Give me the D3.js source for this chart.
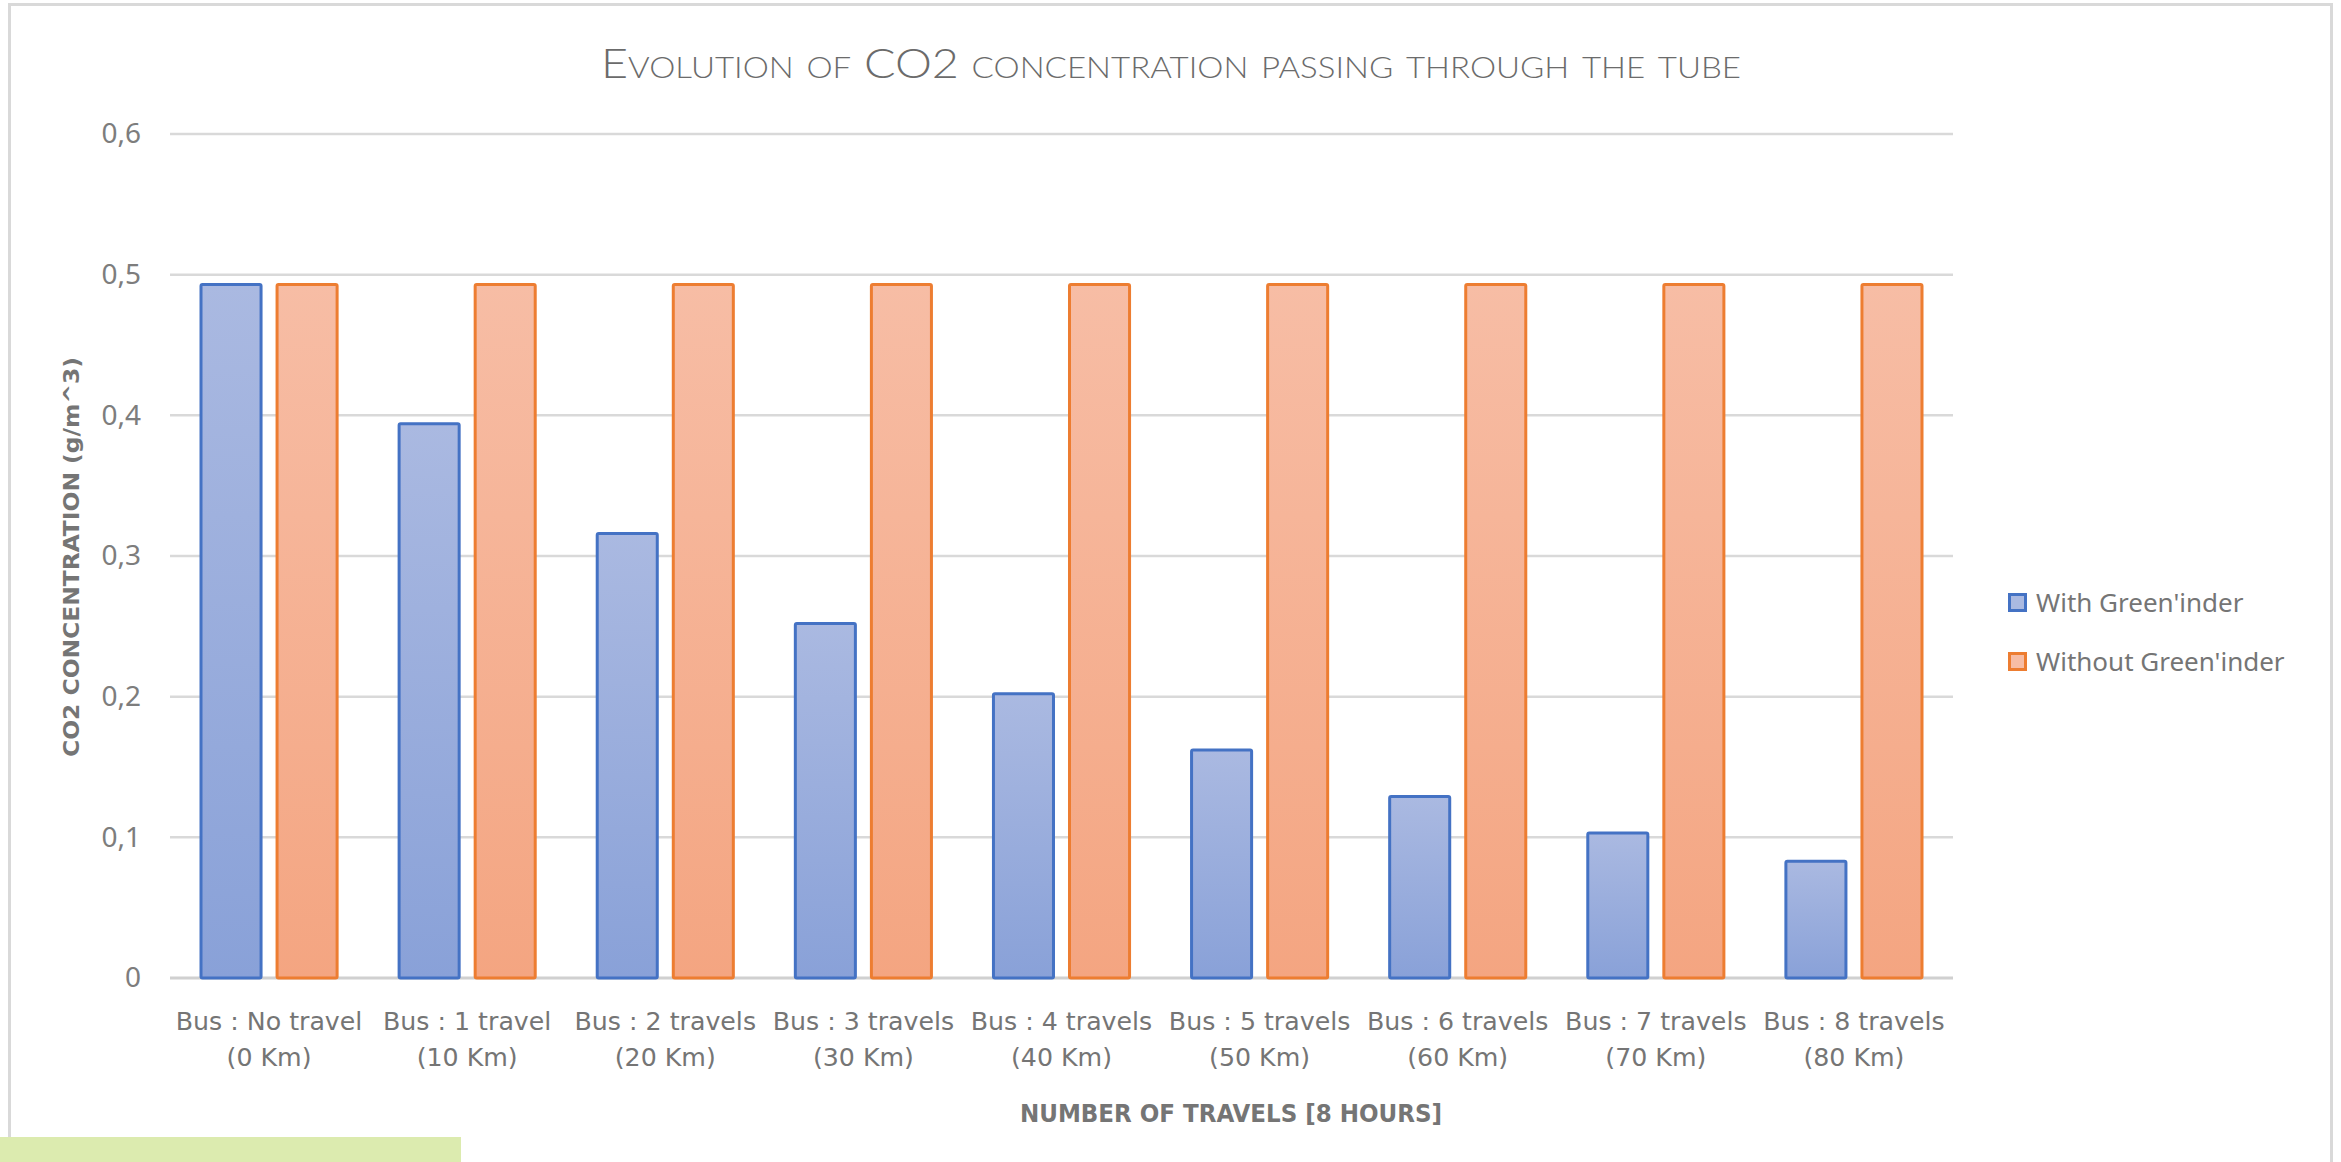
<!doctype html>
<html lang="en">
<head>
  <meta charset="utf-8">
  <script src="https://cdnjs.cloudflare.com/ajax/libs/d3/7.8.5/d3.min.js"></script>
  <style type="text/css">
    body {
      padding: 0;
      margin: 0;
      background: #fff;
    }
    #canvas {
      display: block;
    }
    .cond {
      font-family: 'DejaVu Sans Condensed', 'DejaVu Sans', sans-serif;
      font-stretch: condensed;
    }
  </style>
</head>
<body>
  <svg id="canvas"></svg>
<script>

var categories = [
  ['Bus : No travel', '(0 Km)'],
  ['Bus : 1 travel', '(10 Km)'],
  ['Bus : 2 travels', '(20 Km)'],
  ['Bus : 3 travels', '(30 Km)'],
  ['Bus : 4 travels', '(40 Km)'],
  ['Bus : 5 travels', '(50 Km)'],
  ['Bus : 6 travels', '(60 Km)'],
  ['Bus : 7 travels', '(70 Km)'],
  ['Bus : 8 travels', '(80 Km)']
];
var seriesNames = ["With Green'inder", "Without Green'inder"];
var withGreeninder = [0.493, 0.394, 0.316, 0.252, 0.202, 0.162, 0.129, 0.103, 0.083];
var withoutGreeninder = [0.493, 0.493, 0.493, 0.493, 0.493, 0.493, 0.493, 0.493, 0.493];
var yTicks = [0, 0.1, 0.2, 0.3, 0.4, 0.5, 0.6];

var title = 'Evolution of CO2 concentration passing through the tube';
var xTitle = 'NUMBER OF TRAVELS [8 HOURS]';
var yTitle = 'CO2 CONCENTRATION (g/m^3)';

var width = 2341;
var height = 1162;

var plotLeft = 170;
var plotRight = 1953;
var plotTop = 134;
var plotBottom = 978;

var strokeColors = ['#4472c4', '#ed7d31'];
var gradStops = [['#aab9e1', '#89a1d8'], ['#f7bda5', '#f4a581']];
var textGrey = '#757575';

var svg = d3.select('#canvas')
  .attr('width', width)
  .attr('height', height);

var defs = svg.append('defs');
gradStops.forEach(function(g, i) {
  var lg = defs.append('linearGradient')
    .attr('id', 'grad' + i)
    .attr('x1', 0).attr('y1', 0)
    .attr('x2', 0).attr('y2', 1);
  lg.append('stop').attr('offset', '0%').attr('stop-color', g[0]);
  lg.append('stop').attr('offset', '100%').attr('stop-color', g[1]);
});

// chart frame (bottom edge falls outside the screenshot)
svg.append('rect')
  .attr('x', 9.5)
  .attr('y', 4.5)
  .attr('width', 2322)
  .attr('height', 1300)
  .attr('fill', '#fff')
  .attr('stroke', '#d9d9d9')
  .attr('stroke-width', 3);

// spreadsheet cell peeking out below the chart
svg.append('rect')
  .attr('x', 0)
  .attr('y', 1137)
  .attr('width', 461)
  .attr('height', 25)
  .attr('fill', '#dcebaf');

var y = d3.scaleLinear()
  .domain([0, 0.6])
  .range([plotBottom, plotTop]);

var x0 = d3.scaleBand()
  .domain(d3.range(categories.length))
  .range([plotLeft, plotRight])
  .paddingInner(0)
  .paddingOuter(0);

var x1 = d3.scaleBand()
  .domain(d3.range(seriesNames.length))
  .range([29.5, x0.bandwidth() - 29.5])
  .paddingInner(0.171)
  .paddingOuter(0);

// gridlines
svg.append('g').selectAll('line').data(yTicks).enter().append('line')
  .attr('x1', plotLeft)
  .attr('x2', plotRight)
  .attr('y1', function(d) { return y(d); })
  .attr('y2', function(d) { return y(d); })
  .attr('stroke', function(d) { return d === 0 ? '#d0d0d0' : '#d9d9d9'; })
  .attr('stroke-width', function(d) { return d === 0 ? 3 : 2.5; });

// y axis labels
var yAxis = d3.axisLeft(y)
  .tickValues(yTicks)
  .tickSize(0)
  .tickPadding(0)
  .tickFormat(function(d) { return d === 0 ? '0' : d3.format('.1f')(d).replace('.', ','); });

var yAxisG = svg.append('g')
  .attr('transform', 'translate(141,0)')
  .call(yAxis);
yAxisG.select('.domain').remove();
yAxisG.selectAll('text')
  .attr('fill', '#7d7d7d')
  .style('font-family', "'Noto Sans', 'Open Sans', sans-serif")
  .style('font-size', '28px');

// bars
var series = [withGreeninder, withoutGreeninder];
var groups = svg.append('g').selectAll('g').data(categories).enter().append('g')
  .attr('transform', function(d, i) { return 'translate(' + x0(i) + ',0)'; });

groups.selectAll('rect')
  .data(function(d, i) { return series.map(function(s, k) { return { k: k, v: s[i] }; }); })
  .enter().append('rect')
  .attr('x', function(d) { return x1(d.k) + 1.5; })
  .attr('y', function(d) { return y(d.v); })
  .attr('width', x1.bandwidth() - 3)
  .attr('height', function(d) { return y(0) - y(d.v); })
  .attr('rx', 1.5)
  .attr('fill', function(d) { return 'url(#grad' + d.k + ')'; })
  .attr('stroke', function(d) { return strokeColors[d.k]; })
  .attr('stroke-width', 3);

// category labels (stretched a little to match the wide, narrow-glyph look)
var catLabels = svg.append('g').selectAll('text').data(categories).enter().append('text')
  .attr('class', 'cond')
  .attr('text-anchor', 'middle')
  .attr('fill', textGrey)
  .style('font-size', '24px')
  .attr('transform', function(d, i) {
    return 'translate(' + (x0(i) + x0.bandwidth() / 2) + ',0) scale(1.17,1)';
  });

catLabels.append('tspan')
  .attr('x', 0)
  .attr('y', 1030)
  .text(function(d) { return d[0]; });
catLabels.append('tspan')
  .attr('x', 0)
  .attr('y', 1066)
  .text(function(d) { return d[1]; });

// title
svg.append('text')
  .attr('x', 1171)
  .attr('y', 78)
  .attr('text-anchor', 'middle')
  .attr('fill', '#6b6b6b')
  .attr('textLength', 1140)
  .attr('lengthAdjust', 'spacingAndGlyphs')
  .style('font-family', "Lato, 'Open Sans', sans-serif")
  .style('font-weight', 300)
  .style('font-variant', 'small-caps')
  .style('font-size', '41px')
  .text(title);

// axis titles
svg.append('text')
  .attr('class', 'cond')
  .attr('x', 1231)
  .attr('y', 1122)
  .attr('text-anchor', 'middle')
  .attr('fill', textGrey)
  .attr('textLength', 422)
  .attr('lengthAdjust', 'spacingAndGlyphs')
  .style('font-weight', 'bold')
  .style('font-size', '24px')
  .text(xTitle);

svg.append('text')
  .attr('class', 'cond')
  .attr('transform', 'translate(79,557) rotate(-90)')
  .attr('text-anchor', 'middle')
  .attr('fill', textGrey)
  .attr('textLength', 400)
  .attr('lengthAdjust', 'spacingAndGlyphs')
  .style('font-weight', 'bold')
  .style('font-size', '21px')
  .text(yTitle);

// legend
var legend = svg.append('g').selectAll('g').data(seriesNames).enter().append('g')
  .attr('transform', function(d, i) { return 'translate(2008,' + (593 + i * 59) + ')'; });

legend.append('rect')
  .attr('x', 1.5)
  .attr('y', 1.5)
  .attr('width', 16)
  .attr('height', 16)
  .attr('fill', function(d, i) { return gradStops[i][0]; })
  .attr('stroke', function(d, i) { return strokeColors[i]; })
  .attr('stroke-width', 3);

legend.append('text')
  .attr('x', 28)
  .attr('y', 19)
  .attr('fill', textGrey)
  .style('font-family', "'Noto Sans', 'Open Sans', sans-serif")
  .style('font-size', '26px')
  .text(function(d) { return d; });

</script>
</body>
</html>
